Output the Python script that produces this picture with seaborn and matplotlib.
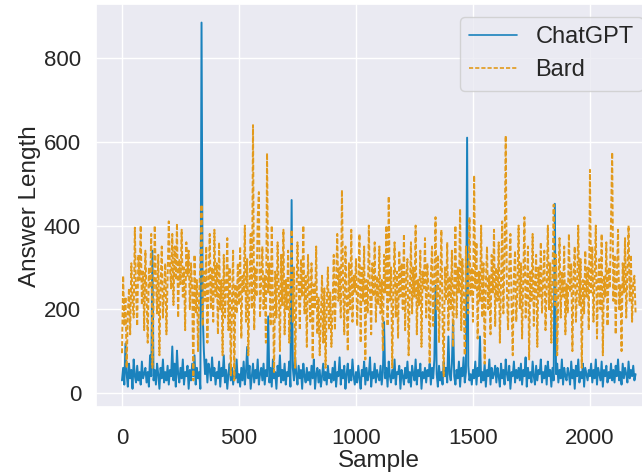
import numpy as np
import pandas as pd
import matplotlib
matplotlib.use("Agg")
import matplotlib.pyplot as plt
import seaborn as sns

# answer lengths, one value every 5 samples
STEP = 5

bard_lengths = [
    95, 280, 160, 230, 60, 190, 250, 140, 310, 220, 180, 395, 240, 160, 330, 270, 400, 210, 290, 150,
    340, 230, 120, 300, 250, 380, 60, 210, 400, 270, 190, 330, 90, 260, 350, 180, 240, 310, 140, 280,
    410, 300, 250, 380, 210, 350, 270, 405, 180, 320, 260, 390, 230, 300, 150, 360, 280, 340, 200, 310,
    250, 30, 330, 190, 270, 100, 240, 310, 450, 160, 290, 220, 350, 120, 260, 380, 200, 300, 170, 390,
    230, 310, 140, 360, 200, 270, 90, 330, 180, 250, 370, 150, 300, 40, 220, 340, 30, 260, 190, 310,
    210, 350, 130, 280, 240, 400, 170, 320, 90, 260, 380, 200, 640, 150, 300, 230, 420, 480, 180, 270,
    350, 200, 280, 120, 573, 240, 310, 160, 400, 220, 50, 290, 180, 360, 250, 100, 330, 210, 390, 140,
    270, 200, 340, 120, 250, 390, 170, 300, 60, 220, 360, 260, 150, 320, 230, 400, 190, 280, 110, 330,
    240, 170, 310, 80, 260, 200, 350, 140, 230, 90, 180, 280, 120, 250, 60, 210, 300, 150, 240, 110,
    200, 330, 150, 270, 380, 220, 300, 180, 485, 260, 140, 350, 230, 100, 310, 200, 390, 170, 280, 240,
    320, 160, 260, 380, 120, 300, 220, 350, 80, 270, 190, 400, 240, 140, 310, 230, 360, 170, 280, 210,
    350, 190, 270, 100, 330, 240, 400, 160, 470, 220, 300, 60, 250, 360, 180, 290, 130, 340, 230, 310,
    200, 380, 150, 280, 320, 90, 240, 360, 190, 300, 230, 400, 140, 270, 210, 340, 110, 290, 250, 370,
    180, 310, 240, 70, 280, 350, 160, 260, 420, 200, 330, 120, 250, 390, 180, 40, 300, 220, 360, 150,
    280, 200, 340, 110, 260, 400, 180, 300, 240, 440, 150, 320, 220, 90, 350, 260, 190, 420, 230, 300,
    170, 520, 250, 360, 130, 290, 220, 400, 180, 310, 70, 260, 350, 200, 280, 140, 330, 240, 390, 160,
    300, 220, 360, 120, 270, 410, 190, 330, 615, 240, 150, 300, 380, 210, 90, 280, 340, 170, 250, 400,
    200, 310, 130, 270, 420, 180, 240, 350, 80, 290, 220, 380, 160, 260, 330, 110, 300, 230, 360, 190,
    270, 340, 150, 250, 400, 200, 310, 120, 280, 450, 210, 330, 90, 240, 370, 180, 290, 230, 350, 140,
    260, 190, 380, 240, 310, 100, 280, 350, 170, 250, 400, 210, 320, 60, 270, 190, 340, 230, 300, 150,
    533, 240, 350, 170, 290, 400, 130, 260, 320, 200, 380, 90, 280, 230, 360, 160, 300, 250, 410, 575,
    220, 330, 140, 280, 390, 200, 260, 100, 310, 240, 370, 180, 290, 400, 220, 330, 170, 260, 280, 190,
]

chatgpt_lengths = [
    30, 60, 20, 118, 45, 15, 70, 35, 55, 10, 80, 40, 25, 65, 30, 50, 20, 75, 35, 45,
    60, 25, 50, 15, 90, 40, 340, 30, 55, 20, 70, 45, 10, 60, 35, 80, 25, 50, 30, 65,
    20, 55, 40, 111, 30, 70, 15, 101, 45, 25, 60, 35, 80, 20, 50, 40, 65, 10, 55, 30,
    70, 40, 90, 20, 60, 35, 50, 10, 885, 190, 100, 45, 80, 25, 70, 55, 30, 85, 40, 60,
    20, 50, 35, 75, 15, 60, 40, 90, 25, 55, 10, 45, 70, 30, 60, 20, 50, 35, 80, 25,
    45, 15, 60, 30, 75, 20, 50, 110, 35, 65, 10, 40, 70, 25, 55, 35, 80, 20, 45, 60,
    30, 70, 20, 55, 40, 183, 25, 60, 15, 80, 35, 50, 10, 65, 40, 90, 25, 55, 30, 70,
    20, 50, 40, 75, 15, 461, 60, 30, 85, 45, 20, 65, 35, 55, 10, 70, 40, 25, 60, 30,
    50, 20, 65, 35, 80, 10, 45, 60, 25, 55, 15, 40, 70, 30, 50, 20, 65, 35, 45, 25,
    60, 30, 75, 15, 50, 40, 85, 20, 55, 35, 65, 10, 45, 70, 25, 55, 30, 80, 40, 20,
    50, 25, 65, 35, 10, 55, 40, 75, 20, 60, 30, 45, 85, 15, 50, 35, 70, 25, 55, 40,
    30, 65, 20, 50, 170, 35, 60, 15, 75, 40, 25, 55, 35, 80, 20, 50, 45, 65, 10, 55,
    40, 20, 60, 35, 75, 25, 50, 15, 65, 45, 30, 80, 20, 55, 40, 70, 10, 50, 35, 60,
    25, 55, 40, 70, 20, 60, 35, 80, 256, 45, 15, 65, 30, 50, 20, 75, 40, 60, 25, 135,
    45, 30, 70, 174, 40, 20, 55, 35, 75, 15, 60, 40, 85, 25, 50, 610, 65, 30, 45, 20,
    55, 35, 75, 20, 60, 40, 135, 25, 50, 30, 70, 15, 55, 40, 80, 20, 60, 35, 45, 65,
    25, 60, 40, 15, 70, 35, 55, 20, 80, 45, 30, 65, 10, 50, 40, 75, 25, 55, 35, 60,
    30, 70, 20, 55, 40, 85, 15, 60, 35, 50, 25, 75, 40, 20, 65, 30, 55, 45, 80, 25,
    50, 35, 65, 20, 75, 40, 55, 15, 60, 30, 452, 45, 70, 25, 55, 35, 80, 20, 60, 40,
    30, 60, 45, 20, 75, 35, 55, 10, 65, 40, 80, 25, 50, 35, 70, 15, 60, 45, 30, 55,
    40, 70, 25, 55, 35, 80, 20, 60, 45, 30, 75, 15, 55, 40, 65, 25, 50, 35, 70, 30,
    55, 25, 65, 40, 80, 30, 50, 20, 70, 35, 60, 45, 25, 75, 35, 55, 40, 65, 30, 45,
]

models = ["ChatGPT", "Bard"]
colors = ["#1a82bd", "#e29a1c"]

df = pd.concat([
    pd.DataFrame({"Sample": np.arange(len(chatgpt_lengths)) * STEP,
                  "Answer Length": chatgpt_lengths, "Model": "ChatGPT"}),
    pd.DataFrame({"Sample": np.arange(len(bard_lengths)) * STEP,
                  "Answer Length": bard_lengths, "Model": "Bard"}),
])

sns.set_theme(style="darkgrid")
plt.rcParams["font.family"] = ["Liberation Sans", "DejaVu Sans"]

fig = plt.figure(figsize=(6.42, 4.75), dpi=100)
# original figure is cut on the right, so the axes runs past the edge
ax = fig.add_axes([0.150, 0.143, 0.880, 0.848])

sns.lineplot(data=df, x="Sample", y="Answer Length", hue="Model", style="Model",
             hue_order=models, style_order=models, palette=colors,
             dashes={"ChatGPT": "", "Bard": (2.5, 1.2)}, linewidth=1.4, ax=ax)

ax.tick_params(axis="x", labelsize=16, pad=9)
ax.tick_params(axis="y", labelsize=16, pad=5)
ax.set_xlabel("Sample", fontsize=17.5, labelpad=1)
ax.set_ylabel("Answer Length", fontsize=17.5, labelpad=2)
ax.set_xticks([0, 500, 1000, 1500, 2000])
ax.set_yticks([0, 200, 400, 600, 800])

leg = ax.legend(loc="upper right", bbox_to_anchor=(643 / 642, 1 - 17 / 475),
                bbox_transform=fig.transFigure, borderaxespad=0,
                fontsize=17, frameon=True, handlelength=2.0,
                borderpad=0.4, labelspacing=0.45, handletextpad=0.8)
leg.get_frame().set_facecolor("#eaeaf2")
leg.get_frame().set_edgecolor("#cccccc")
for line in leg.get_lines():
    line.set_linewidth(1.2)

fig.savefig("out.png", dpi=100)
